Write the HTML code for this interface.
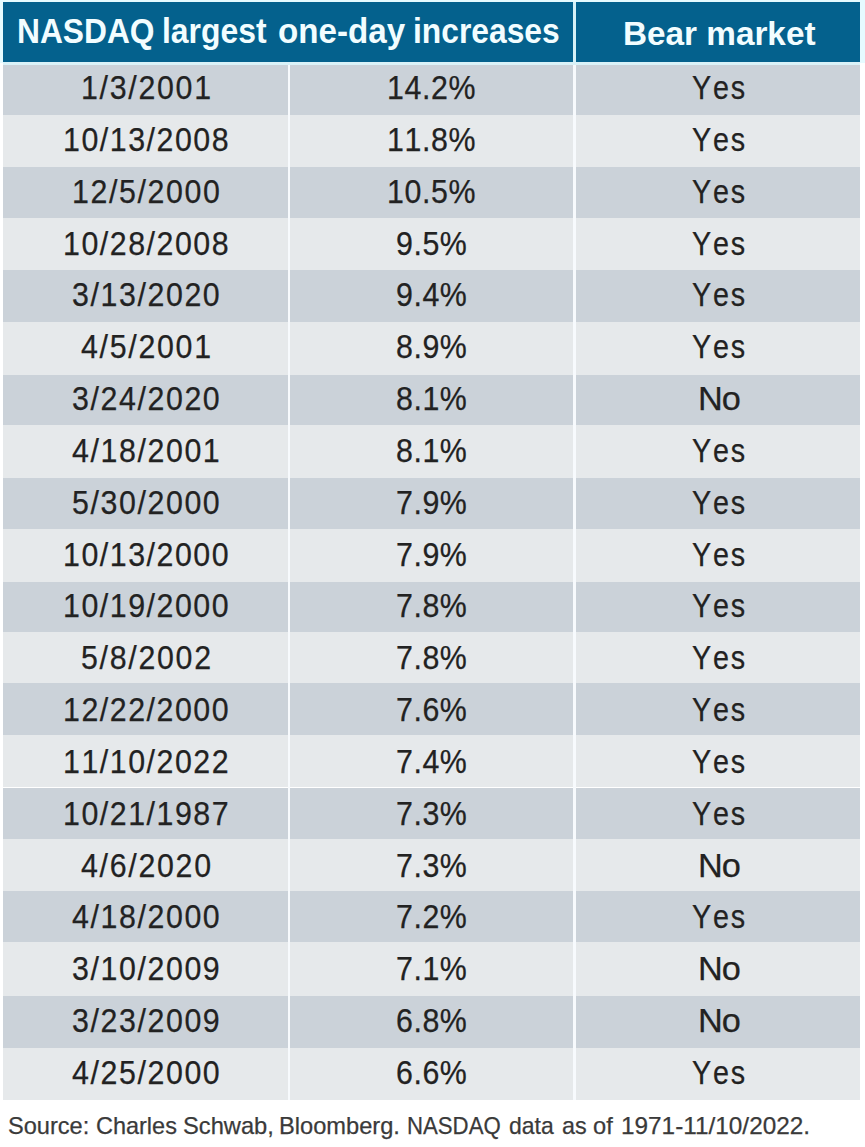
<!DOCTYPE html>
<html><head><meta charset="utf-8"><style>
html,body{margin:0;padding:0;background:#fff;}
body{width:865px;height:1147px;position:relative;overflow:hidden;font-family:"Liberation Sans",Arial,sans-serif;}
.wrap{position:absolute;left:0;top:0;width:865px;height:1147px;}
.h{position:absolute;top:2px;height:60px;background:#04618d;color:#f2fdff;font-weight:bold;white-space:nowrap;}
.h1{left:3px;width:570px;}
.h2{left:576px;width:284px;}
.h span{position:absolute;line-height:60px;height:60px;transform-origin:0 50%;}
.h1 span{top:-1.3px;font-size:35px;}
.h2 span{top:1.7px;font-size:33.3px;}
.bg{position:absolute;left:3px;width:857px;}
.r{position:absolute;left:3px;width:857px;height:51.82px;color:#222222;font-size:33px;}
.g{background:#cbd2d9;}
.l{background:#e6e9eb;}
.r span{position:absolute;top:-0.8px;height:51.82px;line-height:51.82px;white-space:nowrap;font-kerning:none;transform-origin:0 50%;-webkit-text-stroke:0.25px #222222;}
.v{position:absolute;background:#f7fafd;}
.v1{left:287.7px;top:63.0px;width:2px;height:1036.50px;}
.v2{left:573px;top:2px;width:3px;height:1097.50px;}
.hl{position:absolute;left:3px;top:62px;width:857px;height:3px;background:#daf2f8;}
.hbg{position:absolute;left:0;top:0;width:865px;height:63px;background:#e6fbff;}
.v3{left:573px;top:2px;width:3px;height:60px;background:#d5f1f7;}
.src{position:absolute;left:0;top:1095.5px;width:865px;height:60px;font-size:24px;color:#3a3a3a;white-space:nowrap;}
.src span{position:absolute;top:0;line-height:60px;transform-origin:0 50%;-webkit-text-stroke:0.25px #3a3a3a;}
</style></head><body><div class="wrap">
<div class="hbg"></div>
<div class="h h1"><span style="left:14.49px;transform:scaleX(0.9068)">NASDAQ</span>
<span style="left:159.18px;transform:scaleX(0.9107)">largest</span>
<span style="left:274.55px;transform:scaleX(0.9474)">one-day</span>
<span style="left:410.18px;transform:scaleX(0.9082)">increases</span></div>
<div class="h h2"><span style="left:47.00px;transform:scaleX(1.0000)">Bear market</span></div>
<div class="bg g" style="top:63.00px;height:51.80px"></div>
<div class="bg l" style="top:114.80px;height:51.80px"></div>
<div class="bg g" style="top:166.60px;height:51.00px"></div>
<div class="bg l" style="top:217.60px;height:52.40px"></div>
<div class="bg g" style="top:270.00px;height:52.10px"></div>
<div class="bg l" style="top:322.10px;height:53.10px"></div>
<div class="bg g" style="top:375.20px;height:50.20px"></div>
<div class="bg l" style="top:425.40px;height:52.40px"></div>
<div class="bg g" style="top:477.80px;height:51.40px"></div>
<div class="bg l" style="top:529.20px;height:53.10px"></div>
<div class="bg g" style="top:582.30px;height:49.30px"></div>
<div class="bg l" style="top:631.60px;height:51.80px"></div>
<div class="bg g" style="top:683.40px;height:51.40px"></div>
<div class="bg l" style="top:734.80px;height:52.70px"></div>
<div class="bg g" style="top:787.50px;height:51.70px"></div>
<div class="bg l" style="top:839.20px;height:51.80px"></div>
<div class="bg g" style="top:891.00px;height:51.30px"></div>
<div class="bg l" style="top:942.30px;height:53.50px"></div>
<div class="bg g" style="top:995.80px;height:52.20px"></div>
<div class="bg l" style="top:1048.00px;height:51.50px"></div>
<div class="r" style="top:63.00px">
<span style="left:77.87px;letter-spacing:1.842px;transform:scaleX(0.92)">1/3/2001</span>
<span style="left:384.22px;letter-spacing:0.663px;transform:scaleX(0.92)">14.2%</span>
<span style="left:688.51px;letter-spacing:2.060px;transform:scaleX(0.87)">Yes</span>
</div>
<div class="r" style="top:114.82px">
<span style="left:59.94px;letter-spacing:1.651px;transform:scaleX(0.92)">10/13/2008</span>
<span style="left:384.22px;letter-spacing:0.663px;transform:scaleX(0.92)">11.8%</span>
<span style="left:688.51px;letter-spacing:2.060px;transform:scaleX(0.87)">Yes</span>
</div>
<div class="r" style="top:166.64px">
<span style="left:68.79px;letter-spacing:1.749px;transform:scaleX(0.92)">12/5/2000</span>
<span style="left:384.22px;letter-spacing:0.663px;transform:scaleX(0.92)">10.5%</span>
<span style="left:688.51px;letter-spacing:2.060px;transform:scaleX(0.87)">Yes</span>
</div>
<div class="r" style="top:218.46px">
<span style="left:59.94px;letter-spacing:1.651px;transform:scaleX(0.92)">10/28/2008</span>
<span style="left:393.04px;letter-spacing:0.594px;transform:scaleX(0.92)">9.5%</span>
<span style="left:688.51px;letter-spacing:2.060px;transform:scaleX(0.87)">Yes</span>
</div>
<div class="r" style="top:270.28px">
<span style="left:69.01px;letter-spacing:1.722px;transform:scaleX(0.92)">3/13/2020</span>
<span style="left:393.04px;letter-spacing:0.594px;transform:scaleX(0.92)">9.4%</span>
<span style="left:688.51px;letter-spacing:2.060px;transform:scaleX(0.87)">Yes</span>
</div>
<div class="r" style="top:322.10px">
<span style="left:77.87px;letter-spacing:1.842px;transform:scaleX(0.92)">4/5/2001</span>
<span style="left:393.04px;letter-spacing:0.594px;transform:scaleX(0.92)">8.9%</span>
<span style="left:688.51px;letter-spacing:2.060px;transform:scaleX(0.87)">Yes</span>
</div>
<div class="r" style="top:373.92px">
<span style="left:69.01px;letter-spacing:1.722px;transform:scaleX(0.92)">3/24/2020</span>
<span style="left:393.04px;letter-spacing:0.594px;transform:scaleX(0.92)">8.1%</span>
<span style="left:695.41px;letter-spacing:-0.895px;transform:scaleX(1.04)">No</span>
</div>
<div class="r" style="top:425.74px">
<span style="left:69.01px;letter-spacing:1.722px;transform:scaleX(0.92)">4/18/2001</span>
<span style="left:393.04px;letter-spacing:0.594px;transform:scaleX(0.92)">8.1%</span>
<span style="left:688.51px;letter-spacing:2.060px;transform:scaleX(0.87)">Yes</span>
</div>
<div class="r" style="top:477.56px">
<span style="left:69.01px;letter-spacing:1.722px;transform:scaleX(0.92)">5/30/2000</span>
<span style="left:393.04px;letter-spacing:0.594px;transform:scaleX(0.92)">7.9%</span>
<span style="left:688.51px;letter-spacing:2.060px;transform:scaleX(0.87)">Yes</span>
</div>
<div class="r" style="top:529.38px">
<span style="left:59.94px;letter-spacing:1.651px;transform:scaleX(0.92)">10/13/2000</span>
<span style="left:393.04px;letter-spacing:0.594px;transform:scaleX(0.92)">7.9%</span>
<span style="left:688.51px;letter-spacing:2.060px;transform:scaleX(0.87)">Yes</span>
</div>
<div class="r" style="top:581.20px">
<span style="left:59.94px;letter-spacing:1.651px;transform:scaleX(0.92)">10/19/2000</span>
<span style="left:393.04px;letter-spacing:0.594px;transform:scaleX(0.92)">7.8%</span>
<span style="left:688.51px;letter-spacing:2.060px;transform:scaleX(0.87)">Yes</span>
</div>
<div class="r" style="top:633.02px">
<span style="left:77.87px;letter-spacing:1.842px;transform:scaleX(0.92)">5/8/2002</span>
<span style="left:393.04px;letter-spacing:0.594px;transform:scaleX(0.92)">7.8%</span>
<span style="left:688.51px;letter-spacing:2.060px;transform:scaleX(0.87)">Yes</span>
</div>
<div class="r" style="top:684.84px">
<span style="left:59.94px;letter-spacing:1.651px;transform:scaleX(0.92)">12/22/2000</span>
<span style="left:393.04px;letter-spacing:0.594px;transform:scaleX(0.92)">7.6%</span>
<span style="left:688.51px;letter-spacing:2.060px;transform:scaleX(0.87)">Yes</span>
</div>
<div class="r" style="top:736.66px">
<span style="left:59.94px;letter-spacing:1.651px;transform:scaleX(0.92)">11/10/2022</span>
<span style="left:393.04px;letter-spacing:0.594px;transform:scaleX(0.92)">7.4%</span>
<span style="left:688.51px;letter-spacing:2.060px;transform:scaleX(0.87)">Yes</span>
</div>
<div class="r" style="top:788.48px">
<span style="left:59.94px;letter-spacing:1.651px;transform:scaleX(0.92)">10/21/1987</span>
<span style="left:393.04px;letter-spacing:0.594px;transform:scaleX(0.92)">7.3%</span>
<span style="left:688.51px;letter-spacing:2.060px;transform:scaleX(0.87)">Yes</span>
</div>
<div class="r" style="top:840.30px">
<span style="left:77.87px;letter-spacing:1.842px;transform:scaleX(0.92)">4/6/2020</span>
<span style="left:393.04px;letter-spacing:0.594px;transform:scaleX(0.92)">7.3%</span>
<span style="left:695.41px;letter-spacing:-0.895px;transform:scaleX(1.04)">No</span>
</div>
<div class="r" style="top:892.12px">
<span style="left:69.01px;letter-spacing:1.722px;transform:scaleX(0.92)">4/18/2000</span>
<span style="left:393.04px;letter-spacing:0.594px;transform:scaleX(0.92)">7.2%</span>
<span style="left:688.51px;letter-spacing:2.060px;transform:scaleX(0.87)">Yes</span>
</div>
<div class="r" style="top:943.94px">
<span style="left:69.01px;letter-spacing:1.722px;transform:scaleX(0.92)">3/10/2009</span>
<span style="left:393.04px;letter-spacing:0.594px;transform:scaleX(0.92)">7.1%</span>
<span style="left:695.41px;letter-spacing:-0.895px;transform:scaleX(1.04)">No</span>
</div>
<div class="r" style="top:995.76px">
<span style="left:69.01px;letter-spacing:1.722px;transform:scaleX(0.92)">3/23/2009</span>
<span style="left:393.04px;letter-spacing:0.594px;transform:scaleX(0.92)">6.8%</span>
<span style="left:695.41px;letter-spacing:-0.895px;transform:scaleX(1.04)">No</span>
</div>
<div class="r" style="top:1047.58px">
<span style="left:69.01px;letter-spacing:1.722px;transform:scaleX(0.92)">4/25/2000</span>
<span style="left:393.04px;letter-spacing:0.594px;transform:scaleX(0.92)">6.6%</span>
<span style="left:688.51px;letter-spacing:2.060px;transform:scaleX(0.87)">Yes</span>
</div>
<div class="v v1"></div>
<div class="v v2"></div>
<div class="v v3"></div>
<div class="hl"></div>
<div class="src"><span style="left:7.72px;transform:scaleX(0.9825)">Source:</span>
<span style="left:95.92px;transform:scaleX(0.9778)">Charles</span>
<span style="left:182.51px;transform:scaleX(0.9865)">Schwab,</span>
<span style="left:279.03px;transform:scaleX(0.9849)">Bloomberg.</span>
<span style="left:407.25px;transform:scaleX(0.9245)">NASDAQ</span>
<span style="left:509.04px;transform:scaleX(0.9565)">data</span>
<span style="left:562.43px;transform:scaleX(0.9739)">as</span>
<span style="left:593.12px;transform:scaleX(0.9842)">of</span>
<span style="left:620.67px;transform:scaleX(1.0143)">1971-11/10/2022.</span></div>
</div></body></html>
